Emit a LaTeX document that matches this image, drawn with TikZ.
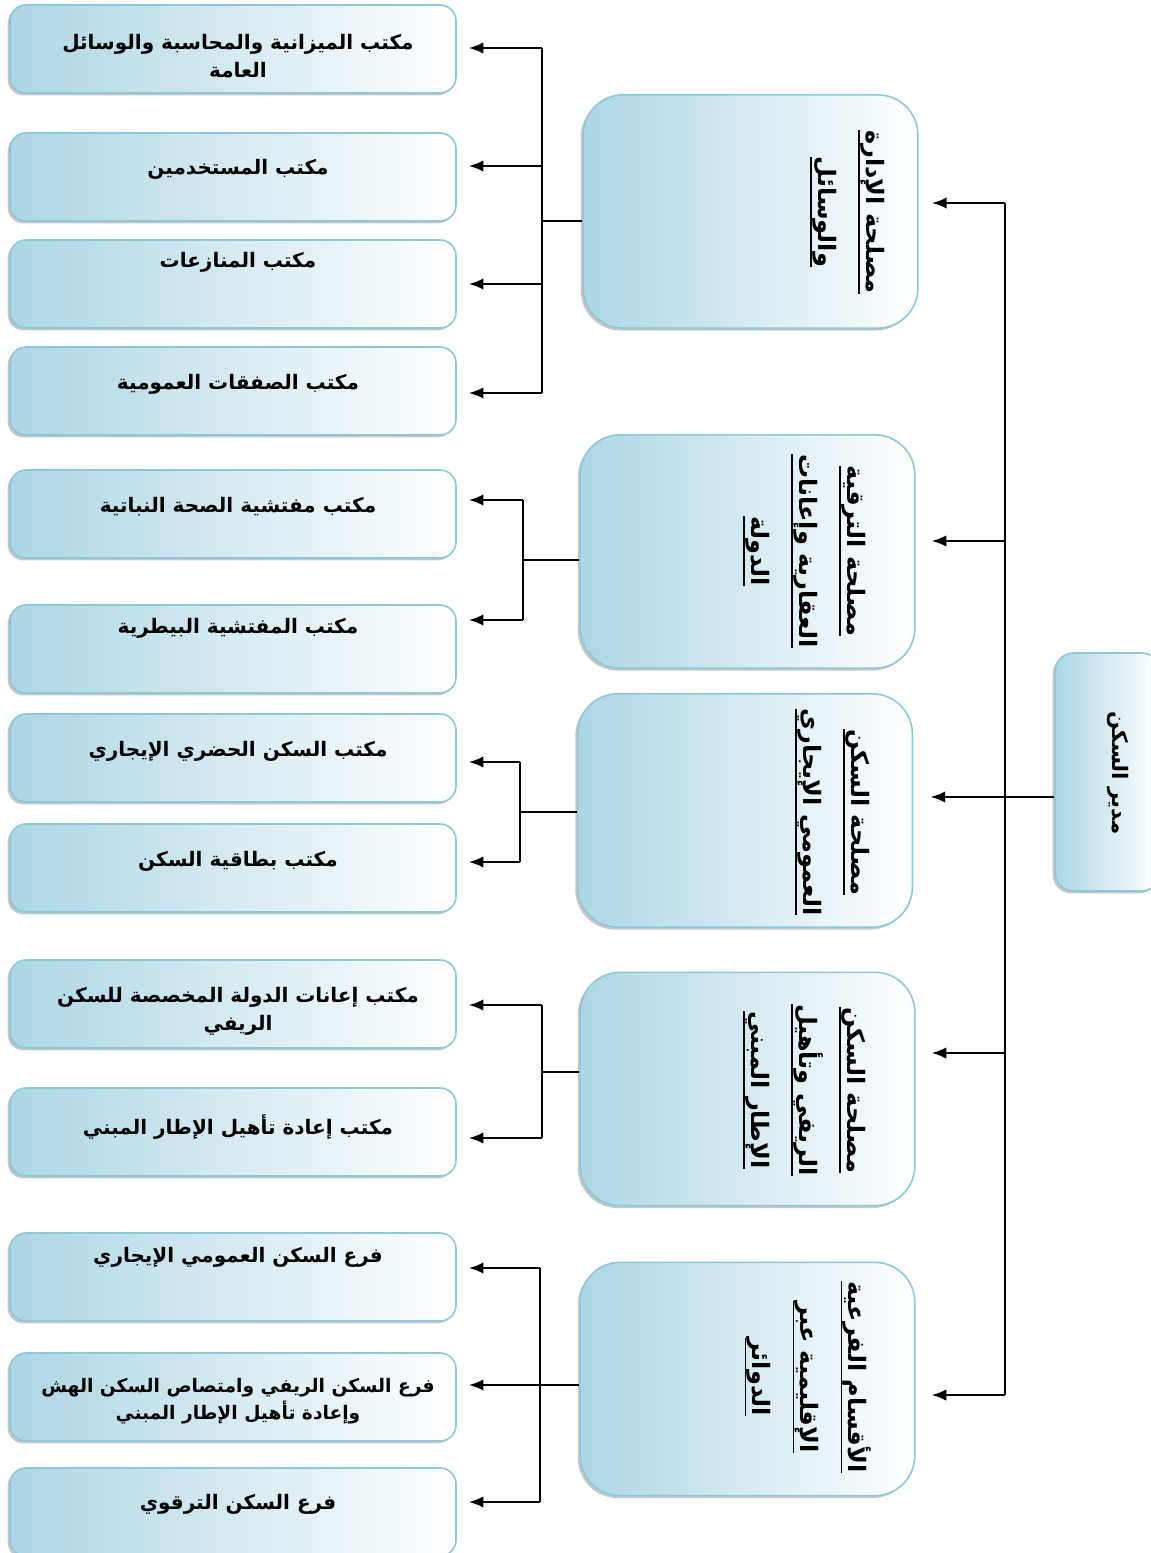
\documentclass[tikz,border=0pt]{standalone}
\usepackage{fontspec}
\usepackage{tikz}
\usetikzlibrary{arrows.meta,shadows}
\newfontfamily\arabicfont[Script=Arabic]{DejaVu Sans}
\TeXXeTstate=1
\definecolor{boxblue}{RGB}{172,214,228}
\definecolor{boxedge}{RGB}{140,200,218}
\newcommand\artext[1]{\beginR #1\endR}
\newcommand\arul[1]{\setbox0\hbox{\beginR #1\endR}\rlap{\rule[-6pt]{\wd0}{1.2pt}}\box0}
\tikzset{every picture/.style={line width=0.75pt}}
\tikzset{
  officebox/.style={draw=boxedge, line width=1.2pt, rounded corners=12pt,
    left color=boxblue, right color=white, minimum width=334.5pt, minimum height=66pt,
    drop shadow={shadow xshift=-1.8pt, shadow yshift=-1.8pt, opacity=0.45}},
  servicebox/.style={officebox, rounded corners=30pt, minimum width=251pt, minimum height=175pt},
  headbox/.style={officebox, rounded corners=14pt, minimum width=78.75pt, minimum height=178.5pt},
  officetext/.style={align=center, inner sep=0pt, font=\arabicfont\bfseries\fontsize{15}{21}\selectfont},
  servicetext/.style={rotate=-90, anchor=north, align=center, inner sep=0pt, font=\arabicfont\bfseries\fontsize{18}{36}\selectfont},
  headtext/.style={rotate=-90, inner sep=0pt, font=\arabicfont\bfseries\fontsize{16}{24}\selectfont},
  link/.style={line width=1.5pt},
  linkarrow/.style={link, -{Latex[length=11pt,width=8.5pt]}, shorten >=9pt}
}

\begin{document}
\begin{tikzpicture}[x=0.75pt,y=0.75pt,yscale=-1,xscale=1]
\useasboundingbox (0,0) rectangle (1150,1553);
\clip (0,0) rectangle (1150,1553);

%Shape: Rounded Rect (director)
\node[headbox] (dir) at (1107.5,772) {};
% Text Node
\node[headtext] (tdir) at (1118,773) {\artext{مدير السكن}};

%Shape: Rounded Rect (services)
\node[servicebox] (sA) at (750.5,211.5) {};
\node[servicebox] (sB) at (747.5,551.5) {};
\node[servicebox] (sC) at (745,810.5) {};
\node[servicebox] (sD) at (747.5,1089) {};
\node[servicebox] (sE) at (747.5,1379) {};
% Text Node
\node[servicetext] (tA) at (885,212) {\arul{مصلحة الإدارة}\\\arul{والوسائل}};
% Text Node
\node[servicetext] (tB) at (866,551) {\arul{مصلحة الترقية}\\\arul{العقارية وإعانات}\\\arul{الدولة}};
% Text Node
\node[servicetext] (tC) at (870,812) {\arul{مصلحة السكن}\\\arul{العمومي الإيجاري}};
% Text Node
\node[servicetext] (tD) at (866,1090) {\arul{مصلحة السكن}\\\arul{الريفي وتأهيل}\\\arul{الإطار المبني}};
% Text Node
\node[servicetext] (tE) at (872,1377) {\arul{الأقسام الفرعية}\\\arul{الإقليمية عبر}\\\arul{الدوائر}};

%Shape: Rounded Rect (offices)
\node[officebox] (o1) at (233,49) {};
\node[officebox] (o2) at (233,177) {};
\node[officebox] (o3) at (233,284) {};
\node[officebox] (o4) at (233,391) {};
\node[officebox] (o5) at (233,514) {};
\node[officebox] (o6) at (233,649) {};
\node[officebox] (o7) at (233,758) {};
\node[officebox] (o8) at (233,868) {};
\node[officebox] (o9) at (233,1004) {};
\node[officebox] (o10) at (233,1132) {};
\node[officebox] (o11) at (233,1277) {};
\node[officebox] (o12) at (233,1397) {};
\node[officebox] (o13) at (233,1512) {};
% Text Node
\node[officetext] (t1) at (238,56) {\artext{مكتب الميزانية والمحاسبة والوسائل}\\\artext{العامة}};
\node[officetext] (t2) at (238,169) {\artext{مكتب المستخدمين}};
\node[officetext] (t3) at (238,262) {\artext{مكتب المنازعات}};
\node[officetext] (t4) at (238,384) {\artext{مكتب الصفقات العمومية}};
\node[officetext] (t5) at (238,507) {\artext{مكتب مفتشية الصحة النباتية}};
\node[officetext] (t6) at (238,628) {\artext{مكتب المفتشية البيطرية}};
\node[officetext] (t7) at (238,751) {\artext{مكتب السكن الحضري الإيجاري}};
\node[officetext] (t8) at (238,861) {\artext{مكتب بطاقية السكن}};
\node[officetext] (t9) at (238,1011) {\artext{مكتب إعانات الدولة المخصصة للسكن}\\\artext{الريفي}};
\node[officetext] (t10) at (238,1127) {\artext{مكتب إعادة تأهيل الإطار المبني}};
\node[officetext] (t11) at (238,1257) {\artext{فرع السكن العمومي الإيجاري}};
\node[officetext, font=\arabicfont\bfseries\fontsize{14}{20}\selectfont] (t12) at (238,1401) {\artext{فرع السكن الريفي وامتصاص السكن الهش}\\\artext{وإعادة تأهيل الإطار المبني}};
\node[officetext] (t13) at (238,1504) {\artext{فرع السكن الترقوي}};

%Straight Lines (director to services)
\coordinate (jm) at (1005,797);
\coordinate (m1) at (1005,203);
\coordinate (m2) at (1005,541);
\coordinate (m4) at (1005,1053);
\coordinate (m5) at (1005,1395);
\draw[link] (jm -| dir.west) -- (jm);
\draw[link] (m1) -- (m5);
\draw[linkarrow, shorten >=10pt] (m1) -- (m1 -| sA.east);
\draw[linkarrow, shorten >=12pt] (m2) -- (m2 -| sB.east);
\draw[linkarrow, shorten >=13pt] (jm) -- (jm -| sC.east);
\draw[linkarrow, shorten >=12pt] (m4) -- (m4 -| sD.east);
\draw[linkarrow, shorten >=12pt] (m5) -- (m5 -| sE.east);

%Straight Lines (service A)
\coordinate (jA) at (542,221);
\coordinate (a1) at (542,48);
\coordinate (a2) at (542,166);
\coordinate (a3) at (542,284);
\coordinate (a4) at (542,393);
\draw[link] (jA) -- (jA -| sA.west);
\draw[link] (a1) -- (a4);
\draw[linkarrow] (a1) -- (a1 -| o1.east);
\draw[linkarrow] (a2) -- (a2 -| o2.east);
\draw[linkarrow] (a3) -- (a3 -| o3.east);
\draw[linkarrow] (a4) -- (a4 -| o4.east);

%Straight Lines (service B)
\coordinate (jB) at (523,560);
\coordinate (b1) at (523,500);
\coordinate (b2) at (523,620);
\draw[link] (jB) -- (jB -| sB.west);
\draw[link] (b1) -- (b2);
\draw[linkarrow] (b1) -- (b1 -| o5.east);
\draw[linkarrow] (b2) -- (b2 -| o6.east);

%Straight Lines (service C)
\coordinate (jC) at (520,812);
\coordinate (c1) at (520,762);
\coordinate (c2) at (520,862);
\draw[link] (jC) -- (jC -| sC.west);
\draw[link] (c1) -- (c2);
\draw[linkarrow] (c1) -- (c1 -| o7.east);
\draw[linkarrow] (c2) -- (c2 -| o8.east);

%Straight Lines (service D)
\coordinate (jD) at (542,1072);
\coordinate (d1) at (542,1005);
\coordinate (d2) at (542,1138);
\draw[link] (jD) -- (jD -| sD.west);
\draw[link] (d1) -- (d2);
\draw[linkarrow] (d1) -- (d1 -| o9.east);
\draw[linkarrow] (d2) -- (d2 -| o10.east);

%Straight Lines (service E)
\coordinate (jE) at (540,1385);
\coordinate (e1) at (540,1268);
\coordinate (e3) at (540,1502);
\draw[link] (jE) -- (jE -| sE.west);
\draw[link] (e1) -- (e3);
\draw[linkarrow] (e1) -- (e1 -| o11.east);
\draw[linkarrow] (jE) -- (jE -| o12.east);
\draw[linkarrow] (e3) -- (e3 -| o13.east);
\end{tikzpicture}
\end{document}
